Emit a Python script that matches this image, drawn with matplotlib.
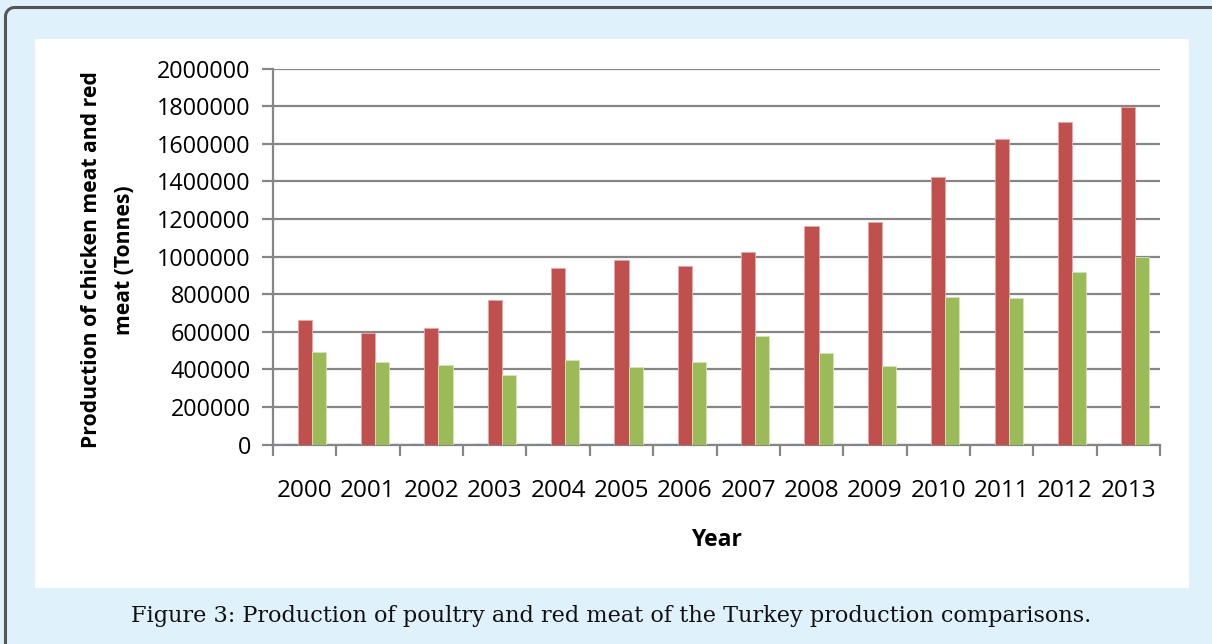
import matplotlib
matplotlib.use("Agg")
import matplotlib.pyplot as plt
from matplotlib.patches import Rectangle
import numpy as np

years = ["2000", "2001", "2002", "2003", "2004", "2005", "2006",
         "2007", "2008", "2009", "2010", "2011", "2012", "2013"]
other_meat = [1500] * 14
poultry_meat = [662000, 595000, 621000, 769000, 940000, 980000, 948000,
                1025000, 1164000, 1185000, 1424000, 1625000, 1714000, 1793000]
red_meat = [492000, 439000, 421000, 370000, 448000, 411000, 440000,
            577000, 485000, 416000, 783000, 778000, 917000, 997000]
y_ticks = [0, 200000, 400000, 600000, 800000, 1000000, 1200000,
           1400000, 1600000, 1800000, 2000000]

W, H = 1212, 644
fig = plt.figure(figsize=(W / 100, H / 100), dpi=100)
fig.patch.set_facecolor("#DFF1FB")

def fx(px):
    return px / W

def fy(py):
    return 1 - py / H

# Dark border on left and top edges with a rounded corner (figure fractions)
r = 9.0
bx, by = 5.5, 7.5
ang = np.linspace(np.pi, np.pi / 2, 12)
arc_x = bx + r + r * np.cos(ang)
arc_y = by + r - r * np.sin(ang)
bxs = np.concatenate([[bx], arc_x, [W]])
bys = np.concatenate([[H], arc_y, [by]])
fig.add_artist(plt.Line2D(bxs / W, 1 - bys / H, transform=fig.transFigure,
                          color="#555555", lw=2.2, solid_capstyle="butt",
                          solid_joinstyle="round"))

# White chart panel
fig.patches.append(Rectangle((fx(35), fy(588)), fx(1189 - 35), (588 - 39) / H,
                             transform=fig.transFigure, facecolor="white",
                             edgecolor="none", zorder=2))

left, right, top, bottom = 273, 1160, 68.5, 444.5
ax = fig.add_axes([fx(left), fy(bottom), fx(right - left), (bottom - top) / H])
ax.set_zorder(3)
ax.patch.set_alpha(0)

x = np.arange(len(years))
bw = 1 / 4.5
ax.bar(x - bw, other_meat, width=bw, color="#6F7F95", zorder=3)
ax.bar(x, poultry_meat, width=bw, color="#C0504D", edgecolor="#E8A8A6",
       linewidth=0.6, zorder=3)
ax.bar(x + bw, red_meat, width=bw, color="#9BBB59", edgecolor="#D4E5B8",
       linewidth=0.6, zorder=3)

ax.set_xlim(-0.5, len(years) - 0.5)
ax.set_ylim(0, 2000000)
ax.set_yticks(y_ticks)
ax.set_yticklabels([str(v) for v in y_ticks], fontsize=16.8, family="Open Sans")
ax.yaxis.grid(True, color="#868686", lw=1.6, zorder=1)
ax.set_axisbelow(True)

ax.set_xticks(np.arange(-0.5, len(years), 1.0))
ax.set_xticklabels([])
ax.set_xticks(x, minor=True)
ax.set_xticklabels(years, minor=True, fontsize=17.5, family="Open Sans")
ax.tick_params(axis="x", which="major", length=8, width=1.6, color="#868686",
               direction="out")
ax.tick_params(axis="x", which="minor", length=0, pad=25)
ax.tick_params(axis="y", length=8, width=1.6, color="#868686", pad=8)

for s in ["top", "right"]:
    ax.spines[s].set_visible(False)
for s in ["left", "bottom"]:
    ax.spines[s].set_color("#868686")
    ax.spines[s].set_linewidth(1.6)

fig.text(fx(108), fy(260), "Production of chicken meat and red\nmeat (Tonnes)",
         rotation=90, ha="center", va="center", fontsize=15.2,
         fontweight="bold", family="Open Sans", linespacing=1.8, zorder=4)
fig.text(fx(716), fy(540), "Year", ha="center", va="center", fontsize=16.5,
         fontweight="bold", family="Open Sans", zorder=4)

fig.text(fx(611), fy(616),
         "Figure 3: Production of poultry and red meat of the Turkey production comparisons.",
         ha="center", va="center", fontsize=16.1, family="DejaVu Serif",
         color="#111111", zorder=4)

fig.savefig("out.png", dpi=100, facecolor=fig.get_facecolor())
